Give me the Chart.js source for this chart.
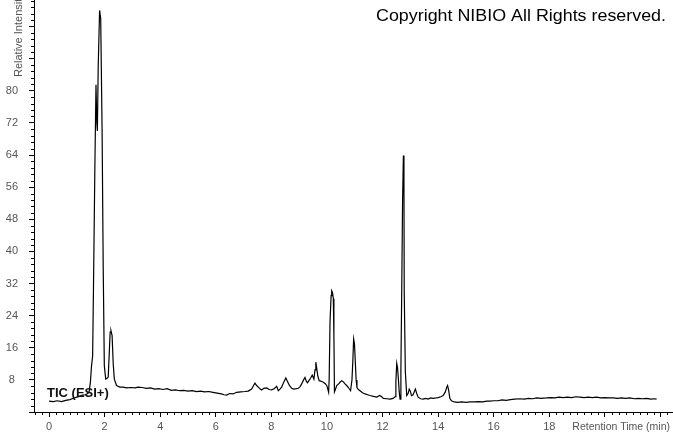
<!DOCTYPE html>
<html>
<head>
<meta charset="utf-8">
<script src="https://cdn.jsdelivr.net/npm/chart.js@4.4.1/dist/chart.umd.min.js"></script>
<style>
  body { margin: 0; background: #fff; }
  canvas { display: block; }
</style>
</head>
<body>
<canvas id="tic" width="673" height="433"></canvas>
<script>
// retention time (min) and relative intensity
const times = [
  0.00, 0.15, 0.30, 0.45, 0.60, 0.75, 0.90, 1.00, 1.10, 1.20, 1.30, 1.36, 1.44, 1.49, 1.53, 1.57,
  1.60, 1.65, 1.69, 1.72, 1.74, 1.77, 1.82, 1.86, 1.91, 1.95, 1.99, 2.04, 2.09, 2.13, 2.17, 2.20,
  2.23, 2.27, 2.31, 2.35, 2.43, 2.55, 2.66, 2.80, 2.95, 3.10, 3.20, 3.35, 3.50, 3.65, 3.80, 3.95,
  4.10, 4.25, 4.40, 4.55, 4.70, 4.85, 5.00, 5.15, 5.30, 5.45, 5.60, 5.75, 5.90, 6.05, 6.20, 6.30,
  6.39, 6.50, 6.62, 6.75, 6.90, 7.05, 7.17, 7.29, 7.36, 7.41, 7.47, 7.53, 7.60, 7.65, 7.73, 7.83,
  7.92, 8.01, 8.10, 8.19, 8.25, 8.31, 8.37, 8.45, 8.52, 8.58, 8.65, 8.73, 8.80, 8.90, 8.97, 9.04,
  9.09, 9.16, 9.21, 9.26, 9.30, 9.35, 9.41, 9.47, 9.53, 9.57, 9.60, 9.63, 9.67, 9.72, 9.78, 9.87,
  9.95, 10.00, 10.06, 10.08, 10.11, 10.15, 10.17, 10.20, 10.23, 10.25, 10.27, 10.30, 10.35, 10.42, 10.47, 10.53,
  10.59, 10.65, 10.71, 10.77, 10.85, 10.90, 10.93, 10.96, 10.99, 11.02, 11.05, 11.08, 11.13, 11.19, 11.28, 11.37,
  11.46, 11.55, 11.67, 11.79, 11.90, 11.97, 12.03, 12.15, 12.27, 12.38, 12.45, 12.48, 12.51, 12.54, 12.57, 12.60,
  12.63, 12.66, 12.69, 12.72, 12.75, 12.77, 12.78, 12.82, 12.87, 12.92, 12.96, 13.00, 13.04, 13.10, 13.15, 13.18,
  13.23, 13.28, 13.37, 13.46, 13.55, 13.64, 13.73, 13.82, 13.92, 14.00, 14.10, 14.18, 14.26, 14.31, 14.34, 14.38,
  14.42, 14.48, 14.58, 14.70, 14.85, 15.00, 15.15, 15.30, 15.45, 15.60, 15.75, 15.86, 16.00, 16.15, 16.30, 16.45,
  16.60, 16.75, 16.94, 17.10, 17.25, 17.40, 17.55, 17.70, 17.90, 18.05, 18.20, 18.35, 18.50, 18.65, 18.80, 18.95,
  19.10, 19.25, 19.40, 19.55, 19.70, 19.85, 20.00, 20.15, 20.30, 20.45, 20.60, 20.75, 20.90, 21.05, 21.20, 21.35,
  21.50, 21.65, 21.80, 21.86
];
const intensity = [
  2.7, 2.6, 2.8, 2.6, 2.9, 3.1, 3.5, 3.7, 3.9, 4.2, 4.3, 4.5, 4.9, 7.5, 11.5, 14.0,
  31, 61, 81.5, 72, 70, 86, 100, 98, 70, 36, 11.5, 8.2, 8.4, 8.7, 15, 19.9,
  20.2, 19, 12, 8.2, 6.6, 6.2, 6.2, 6.0, 6.1, 6.0, 6.2, 6.1, 5.9, 6.0, 5.7, 5.8,
  5.6, 5.8, 5.4, 5.5, 5.3, 5.4, 5.2, 5.3, 5.1, 5.2, 5.0, 5.1, 4.9, 4.7, 4.5, 4.3,
  4.2, 4.6, 4.5, 4.9, 5.0, 5.1, 5.2, 5.7, 6.6, 7.2, 6.6, 6.2, 5.7, 5.5, 5.9, 6.0,
  5.6, 5.5, 5.8, 6.4, 5.3, 5.7, 6.2, 7.5, 8.5, 7.6, 6.6, 5.9, 5.7, 5.8, 5.9, 6.4,
  7.0, 8.0, 8.6, 7.6, 7.3, 7.8, 8.4, 9.2, 8.2, 10.5, 12.4, 11.0, 9.0, 7.8, 7.7, 7.4,
  7.0, 6.5, 4.9, 8.2, 22.4, 29, 30.2, 29.8, 28.2, 19, 5.0, 5.5, 6.6, 7.0, 7.4, 7.8,
  7.5, 7.0, 6.6, 6.1, 5.3, 8.0, 12.5, 18.2, 17, 12.5, 8.0, 6.1, 5.6, 5.3, 4.8, 4.5,
  4.3, 4.1, 3.9, 3.7, 4.1, 3.8, 3.4, 3.3, 3.2, 3.4, 3.8, 7.5, 12.1, 11, 8.2, 5,
  3.2, 10, 30, 52, 63.9, 57, 30, 10, 4.1, 4.6, 5.7, 5.2, 4.1, 4.3, 5.2, 5.7,
  4.6, 3.7, 3.3, 3.2, 3.4, 3.2, 3.5, 3.4, 3.5, 3.6, 3.8, 4.1, 5.0, 6.2, 6.6, 5.4,
  3.4, 2.8, 2.5, 2.4, 2.5, 2.4, 2.5, 2.5, 2.6, 2.5, 2.7, 2.7, 2.8, 2.8, 3.0, 2.9,
  3.1, 3.2, 3.3, 3.2, 3.4, 3.3, 3.5, 3.4, 3.5, 3.6, 3.5, 3.7, 3.6, 3.7, 3.6, 3.8,
  3.7, 3.6, 3.7, 3.6, 3.7, 3.5, 3.6, 3.5, 3.5, 3.4, 3.5, 3.4, 3.5, 3.3, 3.4, 3.3,
  3.4, 3.2, 3.3, 3.2
];

const xTicks = [0, 2, 4, 6, 8, 10, 12, 14, 16, 18, 20, 22];
const xLabelled = [0, 2, 4, 6, 8, 10, 12, 14, 16, 18];
const yTicks = [0, 8, 16, 24, 32, 40, 48, 56, 64, 72, 80, 88, 96];
const yLabelled = [8, 16, 24, 32, 40, 48, 56, 64, 72, 80];

const traceLabel = 'TIC (ESI+)';
const xTitle = 'Retention Time (min)';
const yTitle = 'Relative Intensity';
const copyright = 'Copyright NIBIO All Rights reserved.';

const points = times.map((t, i) => ({ x: t, y: intensity[i] }));

// minor tick marks plus the free text on the plot
const decorations = {
  id: 'decorations',
  afterDraw(chart) {
    const { ctx, chartArea } = chart;
    const xs = chart.scales.x;
    const ys = chart.scales.y;
    ctx.save();
    ctx.strokeStyle = '#000';
    ctx.lineWidth = 1;
    ctx.beginPath();
    for (let i = -2; i <= 89; i++) {
      if (i % 8 === 0) continue;
      const px = Math.round(xs.getPixelForValue(i * 0.25)) + 0.5;
      if (px < chartArea.left || px > chartArea.right) continue;
      ctx.moveTo(px, chartArea.bottom);
      ctx.lineTo(px, chartArea.bottom + 3);
    }
    for (let i = 1; i <= 64; i++) {
      if (i % 5 === 0) continue;
      const py = Math.round(ys.getPixelForValue(i * 1.6)) + 0.5;
      if (py < chartArea.top) continue;
      ctx.moveTo(chartArea.left, py);
      ctx.lineTo(chartArea.left - 3, py);
    }
    ctx.stroke();

    // copyright line, stretched to the width it has in the original
    ctx.save();
    ctx.fillStyle = '#000';
    ctx.font = '17px "Liberation Sans", Arial, sans-serif';
    ctx.textAlign = 'left';
    ctx.textBaseline = 'alphabetic';
    const w = ctx.measureText(copyright).width;
    ctx.translate(376, 21);
    ctx.scale(290 / w, 1);
    ctx.fillText(copyright, 0, 0);
    ctx.restore();

    ctx.fillStyle = '#111';
    ctx.font = 'bold 13px "Liberation Sans", Arial, sans-serif';
    ctx.textAlign = 'left';
    ctx.fillText(traceLabel, 47, 397);

    ctx.fillStyle = '#555';
    ctx.font = '10.5px "Liberation Sans", Arial, sans-serif';
    ctx.textAlign = 'right';
    ctx.textBaseline = 'middle';
    ctx.fillText(xTitle, 670, 427);

    ctx.font = '11px "Liberation Sans", Arial, sans-serif';
    ctx.translate(18.5, 77);
    ctx.rotate(-Math.PI / 2);
    ctx.textAlign = 'left';
    ctx.fillText(yTitle, 0, 0);
    ctx.restore();
  }
};

new Chart(document.getElementById('tic'), {
  type: 'line',
  data: {
    datasets: [{
      label: traceLabel,
      data: points,
      borderColor: '#000',
      borderWidth: 1.2,
      pointRadius: 0,
      tension: 0,
      fill: false
    }]
  },
  options: {
    responsive: false,
    animation: false,
    devicePixelRatio: 1,
    layout: { padding: 0 },
    plugins: {
      legend: { display: false },
      tooltip: { enabled: false }
    },
    scales: {
      x: {
        type: 'linear',
        min: -0.54,
        max: 22.45,
        afterBuildTicks: (s) => { s.ticks = xTicks.map(v => ({ value: v })); },
        afterFit: (s) => { s.height = 21; s.paddingLeft = 0; s.paddingRight = 0; },
        grid: { drawOnChartArea: false, tickLength: 5, tickColor: '#000' },
        border: { color: '#000', width: 1 },
        ticks: {
          autoSkip: false,
          maxRotation: 0,
          padding: 3,
          color: '#555',
          font: { family: '"Liberation Sans", Arial, sans-serif', size: 11 },
          callback: (v) => (xLabelled.includes(v) ? String(v) : '')
        }
      },
      y: {
        type: 'linear',
        min: 0,
        max: 102.6,
        afterBuildTicks: (s) => { s.ticks = yTicks.map(v => ({ value: v })); },
        afterFit: (s) => { s.width = 34; s.paddingTop = 0; s.paddingBottom = 0; },
        grid: { drawOnChartArea: false, tickLength: 5, tickColor: '#000' },
        border: { color: '#000', width: 1 },
        ticks: {
          autoSkip: false,
          padding: 11,
          crossAlign: 'center',
          color: '#555',
          font: { family: '"Liberation Sans", Arial, sans-serif', size: 11 },
          callback: (v) => (yLabelled.includes(v) ? String(v) : '')
        }
      }
    }
  },
  plugins: [decorations]
});
</script>
</body>
</html>
